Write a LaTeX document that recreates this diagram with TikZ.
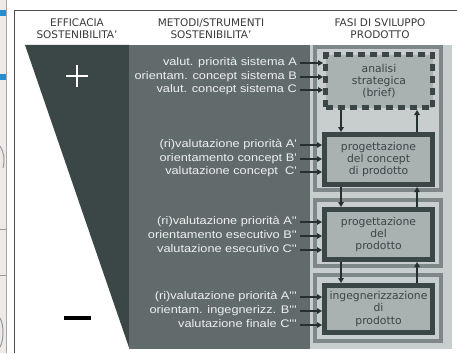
\documentclass[tikz,border=0pt]{standalone}
\usepackage{fontspec}
\usepackage{graphicx}
\setmainfont{DejaVu Sans}
\newfontfamily\mfont[Ligatures=TeXOff]{Liberation Sans}
\newfontfamily\hfont{DejaVu Sans}
\newcommand{\mstr}[1]{\scalebox{1.16}[1]{#1}}
\usetikzlibrary{arrows.meta}
\definecolor{darkc}{HTML}{3B4747}
\definecolor{midc}{HTML}{626B6B}
\definecolor{lightc}{HTML}{C8CDCD}
\definecolor{ringc}{HTML}{7E8888}
\definecolor{boxc}{HTML}{A9B1B1}
\definecolor{arrc}{HTML}{253030}
\definecolor{txtc}{HTML}{3C4646}
\definecolor{hdrc}{HTML}{3A3A3A}
\definecolor{bluec}{HTML}{2A8CCC}
\definecolor{stripc}{HTML}{EEEAE8}
\definecolor{mtxtc}{HTML}{EEF0F0}
\begin{document}
\begin{tikzpicture}[x=1pt,y=-1pt,
  phase/.style={draw=darkc, line width=5pt, fill=boxc, inner sep=0pt,
    minimum width=108pt, align=center, text=txtc,
    font=\hfont\fontsize{10.8}{12.3}\selectfont},
  dphase/.style={phase, dash pattern=on 7pt off 5pt},
  grp/.style={draw=ringc, line width=4pt, fill=lightc},
  mtext/.style={anchor=east, inner sep=3pt, text=mtxtc, text height=8pt, text depth=2.5pt,
    font=\mfont\fontsize{11}{13}\selectfont},
  htext/.style={align=center, text=hdrc, font=\hfont\fontsize{10.5}{12}\selectfont},
  arr/.style={draw=arrc, line width=1.8pt, -{Triangle[length=5pt,width=5.5pt]}}]
\useasboundingbox (0,0) rectangle (457,353);
\fill[white] (0,0) rectangle (457,353);
% neighbouring figure strip
\fill[stripc] (0,0) rectangle (6,353);
\fill[bluec] (0,10) rectangle (6,16);
\fill[bluec] (0,74) rectangle (6,80);
\draw[gray!70, line width=0.8pt] (6.5,0) -- (6.5,353);
\draw[gray!80, line width=1pt] (0,146) .. controls (4,152) and (5,160) .. (3,168);
\draw[gray!80, line width=1pt] (0,229) -- (6,229);
\draw[gray!80, line width=1pt] (0,275) -- (6,275);
\draw[gray!80, line width=1pt] (0,318) .. controls (4,325) and (4,340) .. (0,347);
% frame
\draw[gray!60!black, line width=1.3pt] (14.5,353) -- (14.5,10.5) -- (457,10.5);
% headers
\node[htext] (h1) at (77,29) {EFFICACIA\\SOSTENIBILITA’};
\node[htext] (h2) at (211,29) {METODI/STRUMENTI\\SOSTENIBILITA’};
\node[htext] (h3) at (380,29) {FASI DI SVILUPPO\\PRODOTTO};
% backgrounds
\fill[darkc] (25,45) -- (129.5,45) -- (129.5,349) -- cycle;
\fill[midc] (129,45) rectangle (310,349);
\fill[lightc] (310,45) rectangle (452,349);
\draw[white, line width=1.7pt] (66,76) -- (88,76) (77,65) -- (77,87);
\fill[black] (64,316) rectangle (91,320);
% groups
\draw[grp] (315,47) rectangle (441,190);
\draw[grp] (315,200) rectangle (441,266);
\draw[grp] (315,275) rectangle (441,341);
% phase boxes
\node[dphase, minimum width=107pt, minimum height=53pt] (A) at (379,81) {analisi\\strategica\\(brief)};
\node[phase, minimum height=50pt] (B) at (378.5,159.5) {progettazione\\del concept\\di prodotto};
\node[phase, minimum height=50pt] (C) at (378.5,234.5) {progettazione\\del\\prodotto};
\node[phase, minimum height=47pt] (D) at (378.5,309) {ingegnerizzazione\\di\\prodotto};
% methods
\node[mtext] (m1) at (300,63) {\mstr{valut. priorità sistema A}};
\node[mtext] (m2) at (300,77) {\mstr{orientam. concept sistema B}};
\node[mtext] (m3) at (300,90) {\mstr{valut. concept sistema C}};
\node[mtext] (m4) at (300,145) {\mstr{(ri)valutazione priorità A'}};
\node[mtext] (m5) at (300,159) {\mstr{orientamento concept B'}};
\node[mtext] (m6) at (300,172) {\mstr{valutazione concept~ C'}};
\node[mtext] (m7) at (300,222) {\mstr{(ri)valutazione priorità A''}};
\node[mtext] (m8) at (300,236) {\mstr{orientamento esecutivo B''}};
\node[mtext] (m9) at (300,250) {\mstr{valutazione esecutivo C''}};
\node[mtext] (m10) at (300,297) {\mstr{(ri)valutazione priorità A'''}};
\node[mtext] (m11) at (300,311) {\mstr{orientam. ingegnerizz. B'''}};
\node[mtext] (m12) at (300,325) {\mstr{valutazione finale C'''}};
\foreach \m/\b in {m1/A,m2/A,m3/A,m4/B,m5/B,m6/B,m7/C,m8/C,m9/C,m10/D,m11/D,m12/D}
  \draw[arr] (\m.east) -- (\m.east -| \b.west);
% vertical arrows
\coordinate (xl) at (341,0);
\coordinate (xr) at (417,0);
\draw[arr] (A.south -| xl) -- (B.north -| xl);
\draw[arr] (B.north -| xr) -- (A.south -| xr);
\draw[arr] (B.south -| xl) -- (C.north -| xl);
\draw[arr] (C.north -| xr) -- (B.south -| xr);
\draw[arr] (C.south -| xl) -- (D.north -| xl);
\draw[arr] (D.north -| xr) -- (C.south -| xr);
\end{tikzpicture}
\end{document}
